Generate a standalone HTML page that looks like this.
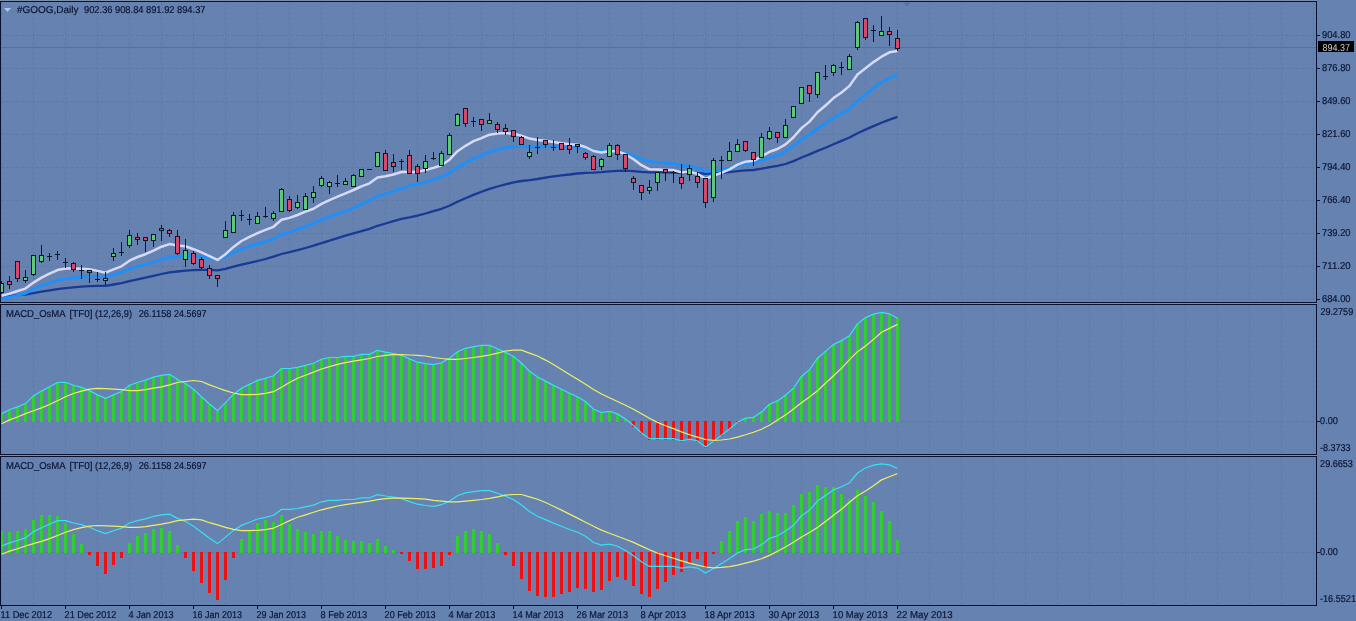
<!DOCTYPE html>
<html><head><meta charset="utf-8"><title>GOOG Daily</title>
<style>
html,body{margin:0;padding:0;background:#6682b0;width:1356px;height:621px;overflow:hidden}
.dl{transform-box:fill-box;}
</style></head><body>
<svg width="1356" height="621" viewBox="0 0 1356 621" style="display:block"><rect x="0" y="0" width="1356" height="621" fill="#6682b0"/><path d="M1.5 2V302 M33.5 2V302 M65.5 2V302 M97.5 2V302 M129.5 2V302 M161.5 2V302 M193.5 2V302 M225.5 2V302 M257.5 2V302 M289.5 2V302 M321.5 2V302 M353.5 2V302 M385.5 2V302 M417.5 2V302 M449.5 2V302 M481.5 2V302 M513.5 2V302 M545.5 2V302 M577.5 2V302 M609.5 2V302 M641.5 2V302 M673.5 2V302 M705.5 2V302 M737.5 2V302 M769.5 2V302 M801.5 2V302 M833.5 2V302 M865.5 2V302 M897.5 2V302 M929.5 2V302 M961.5 2V302 M993.5 2V302 M1025.5 2V302 M1057.5 2V302 M1089.5 2V302 M1121.5 2V302 M1153.5 2V302 M1185.5 2V302 M1217.5 2V302 M1249.5 2V302 M1281.5 2V302 M1313.5 2V302 M1.5 305V454 M33.5 305V454 M65.5 305V454 M97.5 305V454 M129.5 305V454 M161.5 305V454 M193.5 305V454 M225.5 305V454 M257.5 305V454 M289.5 305V454 M321.5 305V454 M353.5 305V454 M385.5 305V454 M417.5 305V454 M449.5 305V454 M481.5 305V454 M513.5 305V454 M545.5 305V454 M577.5 305V454 M609.5 305V454 M641.5 305V454 M673.5 305V454 M705.5 305V454 M737.5 305V454 M769.5 305V454 M801.5 305V454 M833.5 305V454 M865.5 305V454 M897.5 305V454 M929.5 305V454 M961.5 305V454 M993.5 305V454 M1025.5 305V454 M1057.5 305V454 M1089.5 305V454 M1121.5 305V454 M1153.5 305V454 M1185.5 305V454 M1217.5 305V454 M1249.5 305V454 M1281.5 305V454 M1313.5 305V454 M1.5 457V605 M33.5 457V605 M65.5 457V605 M97.5 457V605 M129.5 457V605 M161.5 457V605 M193.5 457V605 M225.5 457V605 M257.5 457V605 M289.5 457V605 M321.5 457V605 M353.5 457V605 M385.5 457V605 M417.5 457V605 M449.5 457V605 M481.5 457V605 M513.5 457V605 M545.5 457V605 M577.5 457V605 M609.5 457V605 M641.5 457V605 M673.5 457V605 M705.5 457V605 M737.5 457V605 M769.5 457V605 M801.5 457V605 M833.5 457V605 M865.5 457V605 M897.5 457V605 M929.5 457V605 M961.5 457V605 M993.5 457V605 M1025.5 457V605 M1057.5 457V605 M1089.5 457V605 M1121.5 457V605 M1153.5 457V605 M1185.5 457V605 M1217.5 457V605 M1249.5 457V605 M1281.5 457V605 M1313.5 457V605 M1 35.5H1316 M1 68.5H1316 M1 101.5H1316 M1 134.5H1316 M1 167.5H1316 M1 200.5H1316 M1 233.5H1316 M1 266.5H1316 M1 299.5H1316 M1 421.5H1316 M1 552.5H1316" stroke="#5e79a6" stroke-width="1" stroke-dasharray="3 2" fill="none" shape-rendering="crispEdges"/><path d="M1 47.5H1316" stroke="#5a7098" stroke-width="1" fill="none" shape-rendering="crispEdges"/><defs><clipPath id="c0"><rect x="1" y="2" width="1315" height="300"/></clipPath><clipPath id="c1"><rect x="1" y="305" width="1315" height="149"/></clipPath><clipPath id="c2"><rect x="1" y="457" width="1315" height="148"/></clipPath></defs><g clip-path="url(#c0)"><polyline points="1.5,296.5 9.5,295.9 17.5,295.2 25.5,294.6 33.5,293.1 41.5,291.6 49.5,290.3 57.5,289.1 65.5,288.1 73.5,287.4 81.5,286.7 89.5,286.1 97.5,285.9 105.5,285.8 113.5,284.5 121.5,283.1 129.5,281.1 137.5,279.3 145.5,277.7 153.5,275.9 161.5,274.0 169.5,272.3 177.5,271.5 185.5,270.7 193.5,270.2 201.5,269.9 209.5,269.9 217.5,270.3 225.5,268.8 233.5,266.7 241.5,264.7 249.5,262.9 257.5,261.0 265.5,259.0 273.5,256.7 281.5,254.0 289.5,252.2 297.5,250.2 305.5,248.0 313.5,245.7 321.5,243.1 329.5,240.7 337.5,238.1 345.5,235.6 353.5,233.4 361.5,231.2 369.5,228.9 377.5,225.8 385.5,223.5 393.5,221.2 401.5,218.8 409.5,217.4 417.5,215.7 425.5,213.5 433.5,211.2 441.5,208.8 449.5,205.7 457.5,201.7 465.5,198.3 473.5,194.9 481.5,191.8 489.5,188.9 497.5,186.5 505.5,184.3 513.5,182.4 521.5,181.0 529.5,180.1 537.5,179.0 545.5,177.6 553.5,176.3 561.5,175.3 569.5,174.5 577.5,173.5 585.5,172.8 593.5,172.7 601.5,172.2 609.5,171.3 617.5,170.8 625.5,170.7 633.5,171.1 641.5,171.9 649.5,172.4 657.5,172.3 665.5,172.4 673.5,172.5 681.5,173.0 689.5,172.8 697.5,172.9 705.5,173.8 713.5,173.2 721.5,172.8 729.5,172.2 737.5,171.2 745.5,170.4 753.5,170.0 761.5,168.7 769.5,167.2 777.5,165.9 785.5,164.0 793.5,161.1 801.5,157.5 809.5,154.4 817.5,150.9 825.5,147.8 833.5,144.2 841.5,140.9 849.5,137.5 857.5,133.2 865.5,129.6 873.5,126.1 881.5,122.7 889.5,119.6 897.5,116.9" fill="none" stroke="#183a96" stroke-width="2.3" stroke-linejoin="round"/><polyline points="1.5,298.6 9.5,297.3 17.5,295.4 25.5,293.2 33.5,289.0 41.5,285.7 49.5,282.9 57.5,280.3 65.5,278.7 73.5,277.7 81.5,276.9 89.5,276.4 97.5,276.6 105.5,276.8 113.5,274.5 121.5,272.4 129.5,268.9 137.5,266.4 145.5,264.4 153.5,262.1 161.5,259.6 169.5,257.3 177.5,256.6 185.5,255.4 193.5,255.8 201.5,256.5 209.5,258.0 217.5,259.5 225.5,256.5 233.5,252.4 241.5,248.8 249.5,245.9 257.5,244.0 265.5,241.7 273.5,239.0 281.5,234.3 289.5,232.1 297.5,229.3 305.5,226.4 313.5,223.5 321.5,219.7 329.5,216.5 337.5,213.8 345.5,211.1 353.5,207.9 361.5,204.1 369.5,200.7 377.5,196.2 385.5,193.9 393.5,191.4 401.5,188.6 409.5,185.6 417.5,184.2 425.5,182.0 433.5,179.6 441.5,176.9 449.5,172.8 457.5,167.2 465.5,163.0 473.5,158.9 481.5,155.4 489.5,151.8 497.5,149.5 505.5,147.7 513.5,146.6 521.5,146.4 529.5,146.9 537.5,146.9 545.5,146.5 553.5,146.4 561.5,146.6 569.5,146.9 577.5,146.9 585.5,148.1 593.5,150.4 601.5,151.5 609.5,151.1 617.5,151.5 625.5,153.1 633.5,155.9 641.5,159.2 649.5,161.6 657.5,162.4 665.5,163.1 673.5,163.7 681.5,165.6 689.5,166.1 697.5,167.9 705.5,171.4 713.5,170.8 721.5,170.3 729.5,168.5 737.5,165.8 745.5,163.7 753.5,162.8 761.5,160.3 769.5,157.7 777.5,155.5 785.5,151.5 793.5,146.0 801.5,139.6 809.5,134.7 817.5,128.5 825.5,123.5 833.5,118.3 841.5,113.9 849.5,109.0 857.5,101.0 865.5,94.6 873.5,87.9 881.5,82.3 889.5,77.8 897.5,75.0" fill="none" stroke="#2090f8" stroke-width="3" stroke-linejoin="round"/><polyline points="1.5,295.7 9.5,293.7 17.5,291.0 25.5,288.6 33.5,282.6 41.5,277.6 49.5,273.7 57.5,270.1 65.5,268.6 73.5,268.5 81.5,268.7 89.5,269.2 97.5,270.9 105.5,272.7 113.5,269.3 121.5,266.3 129.5,260.7 137.5,257.0 145.5,254.2 153.5,250.6 161.5,246.7 169.5,244.1 177.5,245.6 185.5,246.3 193.5,249.2 201.5,252.4 209.5,256.2 217.5,259.9 225.5,254.2 233.5,246.9 241.5,241.0 249.5,236.9 257.5,233.1 265.5,229.9 273.5,226.8 281.5,219.8 289.5,217.9 297.5,215.0 305.5,211.6 313.5,208.7 321.5,203.9 329.5,200.1 337.5,196.7 345.5,193.4 353.5,190.0 361.5,186.3 369.5,183.3 377.5,177.6 385.5,176.3 393.5,174.5 401.5,172.0 409.5,171.8 417.5,171.9 425.5,170.0 433.5,167.9 441.5,165.2 449.5,159.7 457.5,151.2 465.5,145.8 473.5,141.2 481.5,138.1 489.5,134.7 497.5,133.6 505.5,133.1 513.5,133.8 521.5,135.7 529.5,138.6 537.5,140.1 545.5,140.8 553.5,142.0 561.5,143.3 569.5,144.3 577.5,144.7 585.5,147.0 593.5,151.0 601.5,152.5 609.5,151.0 617.5,151.4 625.5,154.2 633.5,159.2 641.5,165.2 649.5,169.3 657.5,169.6 665.5,169.9 673.5,170.1 681.5,172.4 689.5,171.8 697.5,173.7 705.5,178.8 713.5,175.5 721.5,172.9 729.5,169.3 737.5,164.7 745.5,161.7 753.5,160.8 761.5,156.4 769.5,151.8 777.5,149.0 785.5,144.4 793.5,137.3 801.5,128.1 809.5,121.6 817.5,112.3 825.5,105.5 833.5,98.1 841.5,92.5 849.5,85.9 857.5,74.5 865.5,68.2 873.5,62.1 881.5,56.7 889.5,52.3 897.5,51.1" fill="none" stroke="#d6daf4" stroke-width="2.5" stroke-linejoin="round"/><g shape-rendering="crispEdges"><rect x="1" y="281" width="1" height="13" fill="#0c1a24"/><rect x="-1" y="283" width="5" height="10" fill="#0c1a24"/><rect x="0" y="284" width="3" height="8" fill="#5cc878"/><rect x="9" y="276" width="1" height="13" fill="#0c1a24"/><rect x="7" y="281" width="5" height="4" fill="#0c1a24"/><rect x="8" y="282" width="3" height="2" fill="#d84868"/><rect x="17" y="261" width="1" height="21" fill="#0c1a24"/><rect x="15" y="261" width="5" height="18" fill="#0c1a24"/><rect x="16" y="262" width="3" height="16" fill="#d84868"/><rect x="25" y="270" width="1" height="13" fill="#0c1a24"/><rect x="23" y="277" width="5" height="4" fill="#0c1a24"/><rect x="24" y="278" width="3" height="2" fill="#5cc878"/><rect x="33" y="255" width="1" height="21" fill="#0c1a24"/><rect x="31" y="255" width="5" height="20" fill="#0c1a24"/><rect x="32" y="256" width="3" height="18" fill="#5cc878"/><rect x="41" y="245" width="1" height="18" fill="#0c1a24"/><rect x="39" y="255" width="5" height="7" fill="#0c1a24"/><rect x="40" y="256" width="3" height="5" fill="#5cc878"/><rect x="49" y="253" width="1" height="8" fill="#0c1a24"/><rect x="47" y="256" width="5" height="1" fill="#0c1a24"/><rect x="57" y="251" width="1" height="9" fill="#0c1a24"/><rect x="55" y="254" width="5" height="1" fill="#0c1a24"/><rect x="65" y="258" width="1" height="10" fill="#0c1a24"/><rect x="63" y="262" width="5" height="1" fill="#0c1a24"/><rect x="73" y="262" width="1" height="10" fill="#0c1a24"/><rect x="71" y="263" width="5" height="7" fill="#0c1a24"/><rect x="72" y="264" width="3" height="5" fill="#d84868"/><rect x="81" y="265" width="1" height="14" fill="#0c1a24"/><rect x="79" y="270" width="5" height="1" fill="#0c1a24"/><rect x="89" y="270" width="1" height="13" fill="#0c1a24"/><rect x="87" y="270" width="5" height="3" fill="#0c1a24"/><rect x="88" y="271" width="3" height="1" fill="#d84868"/><rect x="97" y="272" width="1" height="10" fill="#0c1a24"/><rect x="95" y="279" width="5" height="1" fill="#0c1a24"/><rect x="105" y="272" width="1" height="13" fill="#0c1a24"/><rect x="103" y="278" width="5" height="3" fill="#0c1a24"/><rect x="104" y="279" width="3" height="1" fill="#5cc878"/><rect x="113" y="248" width="1" height="13" fill="#0c1a24"/><rect x="111" y="253" width="5" height="4" fill="#0c1a24"/><rect x="112" y="254" width="3" height="2" fill="#5cc878"/><rect x="121" y="242" width="1" height="14" fill="#0c1a24"/><rect x="119" y="252" width="5" height="1" fill="#0c1a24"/><rect x="129" y="230" width="1" height="18" fill="#0c1a24"/><rect x="127" y="235" width="5" height="11" fill="#0c1a24"/><rect x="128" y="236" width="3" height="9" fill="#5cc878"/><rect x="137" y="233" width="1" height="12" fill="#0c1a24"/><rect x="135" y="237" width="5" height="3" fill="#0c1a24"/><rect x="136" y="238" width="3" height="1" fill="#d84868"/><rect x="145" y="237" width="1" height="15" fill="#0c1a24"/><rect x="143" y="237" width="5" height="4" fill="#0c1a24"/><rect x="144" y="238" width="3" height="2" fill="#d84868"/><rect x="153" y="234" width="1" height="13" fill="#0c1a24"/><rect x="151" y="234" width="5" height="7" fill="#0c1a24"/><rect x="152" y="235" width="3" height="5" fill="#5cc878"/><rect x="161" y="225" width="1" height="16" fill="#0c1a24"/><rect x="159" y="228" width="5" height="3" fill="#0c1a24"/><rect x="160" y="229" width="3" height="1" fill="#d84868"/><rect x="169" y="229" width="1" height="8" fill="#0c1a24"/><rect x="167" y="230" width="5" height="4" fill="#0c1a24"/><rect x="168" y="231" width="3" height="2" fill="#d84868"/><rect x="177" y="230" width="1" height="25" fill="#0c1a24"/><rect x="175" y="236" width="5" height="18" fill="#0c1a24"/><rect x="176" y="237" width="3" height="16" fill="#d84868"/><rect x="185" y="239" width="1" height="28" fill="#0c1a24"/><rect x="183" y="250" width="5" height="10" fill="#0c1a24"/><rect x="184" y="251" width="3" height="8" fill="#5cc878"/><rect x="193" y="251" width="1" height="14" fill="#0c1a24"/><rect x="191" y="253" width="5" height="11" fill="#0c1a24"/><rect x="192" y="254" width="3" height="9" fill="#d84868"/><rect x="201" y="257" width="1" height="12" fill="#0c1a24"/><rect x="199" y="259" width="5" height="9" fill="#0c1a24"/><rect x="200" y="260" width="3" height="7" fill="#d84868"/><rect x="209" y="265" width="1" height="14" fill="#0c1a24"/><rect x="207" y="268" width="5" height="8" fill="#0c1a24"/><rect x="208" y="269" width="3" height="6" fill="#d84868"/><rect x="217" y="275" width="1" height="12" fill="#0c1a24"/><rect x="215" y="275" width="5" height="4" fill="#0c1a24"/><rect x="216" y="276" width="3" height="2" fill="#d84868"/><rect x="225" y="221" width="1" height="17" fill="#0c1a24"/><rect x="223" y="230" width="5" height="8" fill="#0c1a24"/><rect x="224" y="231" width="3" height="6" fill="#5cc878"/><rect x="233" y="212" width="1" height="21" fill="#0c1a24"/><rect x="231" y="215" width="5" height="18" fill="#0c1a24"/><rect x="232" y="216" width="3" height="16" fill="#5cc878"/><rect x="241" y="210" width="1" height="11" fill="#0c1a24"/><rect x="239" y="215" width="5" height="1" fill="#0c1a24"/><rect x="249" y="214" width="1" height="11" fill="#0c1a24"/><rect x="247" y="219" width="5" height="1" fill="#0c1a24"/><rect x="257" y="212" width="1" height="12" fill="#0c1a24"/><rect x="255" y="216" width="5" height="8" fill="#0c1a24"/><rect x="256" y="217" width="3" height="6" fill="#5cc878"/><rect x="265" y="207" width="1" height="11" fill="#0c1a24"/><rect x="263" y="216" width="5" height="1" fill="#0c1a24"/><rect x="273" y="211" width="1" height="10" fill="#0c1a24"/><rect x="271" y="213" width="5" height="6" fill="#0c1a24"/><rect x="272" y="214" width="3" height="4" fill="#5cc878"/><rect x="281" y="188" width="1" height="24" fill="#0c1a24"/><rect x="279" y="189" width="5" height="23" fill="#0c1a24"/><rect x="280" y="190" width="3" height="21" fill="#5cc878"/><rect x="289" y="196" width="1" height="16" fill="#0c1a24"/><rect x="287" y="199" width="5" height="12" fill="#0c1a24"/><rect x="288" y="200" width="3" height="10" fill="#d84868"/><rect x="297" y="195" width="1" height="14" fill="#0c1a24"/><rect x="295" y="202" width="5" height="6" fill="#0c1a24"/><rect x="296" y="203" width="3" height="4" fill="#5cc878"/><rect x="305" y="193" width="1" height="17" fill="#0c1a24"/><rect x="303" y="196" width="5" height="14" fill="#0c1a24"/><rect x="304" y="197" width="3" height="12" fill="#5cc878"/><rect x="313" y="186" width="1" height="17" fill="#0c1a24"/><rect x="311" y="192" width="5" height="6" fill="#0c1a24"/><rect x="312" y="193" width="3" height="4" fill="#5cc878"/><rect x="321" y="176" width="1" height="11" fill="#0c1a24"/><rect x="319" y="178" width="5" height="8" fill="#0c1a24"/><rect x="320" y="179" width="3" height="6" fill="#5cc878"/><rect x="329" y="181" width="1" height="13" fill="#0c1a24"/><rect x="327" y="182" width="5" height="5" fill="#0c1a24"/><rect x="328" y="183" width="3" height="3" fill="#5cc878"/><rect x="337" y="175" width="1" height="12" fill="#0c1a24"/><rect x="335" y="183" width="5" height="1" fill="#0c1a24"/><rect x="345" y="178" width="1" height="7" fill="#0c1a24"/><rect x="343" y="181" width="5" height="4" fill="#0c1a24"/><rect x="344" y="182" width="3" height="2" fill="#5cc878"/><rect x="353" y="174" width="1" height="13" fill="#0c1a24"/><rect x="351" y="175" width="5" height="12" fill="#0c1a24"/><rect x="352" y="176" width="3" height="10" fill="#5cc878"/><rect x="361" y="169" width="1" height="8" fill="#0c1a24"/><rect x="359" y="169" width="5" height="8" fill="#0c1a24"/><rect x="360" y="170" width="3" height="6" fill="#5cc878"/><rect x="369" y="169" width="1" height="1" fill="#0c1a24"/><rect x="367" y="169" width="5" height="1" fill="#0c1a24"/><rect x="377" y="152" width="1" height="15" fill="#0c1a24"/><rect x="375" y="152" width="5" height="15" fill="#0c1a24"/><rect x="376" y="153" width="3" height="13" fill="#5cc878"/><rect x="385" y="150" width="1" height="21" fill="#0c1a24"/><rect x="383" y="153" width="5" height="18" fill="#0c1a24"/><rect x="384" y="154" width="3" height="16" fill="#d84868"/><rect x="393" y="154" width="1" height="18" fill="#0c1a24"/><rect x="391" y="162" width="5" height="5" fill="#0c1a24"/><rect x="392" y="163" width="3" height="3" fill="#d84868"/><rect x="401" y="159" width="1" height="11" fill="#0c1a24"/><rect x="399" y="161" width="5" height="1" fill="#0c1a24"/><rect x="409" y="150" width="1" height="24" fill="#0c1a24"/><rect x="407" y="155" width="5" height="19" fill="#0c1a24"/><rect x="408" y="156" width="3" height="17" fill="#d84868"/><rect x="417" y="164" width="1" height="18" fill="#0c1a24"/><rect x="415" y="166" width="5" height="8" fill="#0c1a24"/><rect x="416" y="167" width="3" height="6" fill="#d84868"/><rect x="425" y="155" width="1" height="18" fill="#0c1a24"/><rect x="423" y="161" width="5" height="8" fill="#0c1a24"/><rect x="424" y="162" width="3" height="6" fill="#5cc878"/><rect x="433" y="152" width="1" height="8" fill="#0c1a24"/><rect x="431" y="158" width="5" height="1" fill="#0c1a24"/><rect x="441" y="151" width="1" height="15" fill="#0c1a24"/><rect x="439" y="153" width="5" height="13" fill="#0c1a24"/><rect x="440" y="154" width="3" height="11" fill="#5cc878"/><rect x="449" y="133" width="1" height="22" fill="#0c1a24"/><rect x="447" y="135" width="5" height="20" fill="#0c1a24"/><rect x="448" y="136" width="3" height="18" fill="#5cc878"/><rect x="457" y="113" width="1" height="13" fill="#0c1a24"/><rect x="455" y="114" width="5" height="12" fill="#0c1a24"/><rect x="456" y="115" width="3" height="10" fill="#5cc878"/><rect x="465" y="108" width="1" height="19" fill="#0c1a24"/><rect x="463" y="108" width="5" height="16" fill="#0c1a24"/><rect x="464" y="109" width="3" height="14" fill="#d84868"/><rect x="473" y="117" width="1" height="10" fill="#0c1a24"/><rect x="471" y="121" width="5" height="1" fill="#0c1a24"/><rect x="481" y="119" width="1" height="12" fill="#0c1a24"/><rect x="479" y="119" width="5" height="6" fill="#0c1a24"/><rect x="480" y="120" width="3" height="4" fill="#d84868"/><rect x="489" y="113" width="1" height="11" fill="#0c1a24"/><rect x="487" y="120" width="5" height="4" fill="#0c1a24"/><rect x="488" y="121" width="3" height="2" fill="#5cc878"/><rect x="497" y="122" width="1" height="11" fill="#0c1a24"/><rect x="495" y="124" width="5" height="6" fill="#0c1a24"/><rect x="496" y="125" width="3" height="4" fill="#d84868"/><rect x="505" y="124" width="1" height="11" fill="#0c1a24"/><rect x="503" y="128" width="5" height="4" fill="#0c1a24"/><rect x="504" y="129" width="3" height="2" fill="#d84868"/><rect x="513" y="130" width="1" height="12" fill="#0c1a24"/><rect x="511" y="130" width="5" height="7" fill="#0c1a24"/><rect x="512" y="131" width="3" height="5" fill="#d84868"/><rect x="521" y="136" width="1" height="9" fill="#0c1a24"/><rect x="519" y="137" width="5" height="8" fill="#0c1a24"/><rect x="520" y="138" width="3" height="6" fill="#d84868"/><rect x="529" y="145" width="1" height="14" fill="#0c1a24"/><rect x="527" y="152" width="5" height="5" fill="#0c1a24"/><rect x="528" y="153" width="3" height="3" fill="#5cc878"/><rect x="537" y="137" width="1" height="17" fill="#0c1a24"/><rect x="535" y="147" width="5" height="1" fill="#0c1a24"/><rect x="545" y="140" width="1" height="8" fill="#0c1a24"/><rect x="543" y="140" width="5" height="5" fill="#0c1a24"/><rect x="544" y="141" width="3" height="3" fill="#d84868"/><rect x="553" y="140" width="1" height="11" fill="#0c1a24"/><rect x="551" y="147" width="5" height="1" fill="#0c1a24"/><rect x="561" y="143" width="1" height="7" fill="#0c1a24"/><rect x="559" y="143" width="5" height="7" fill="#0c1a24"/><rect x="560" y="144" width="3" height="5" fill="#d84868"/><rect x="569" y="138" width="1" height="16" fill="#0c1a24"/><rect x="567" y="145" width="5" height="5" fill="#0c1a24"/><rect x="568" y="146" width="3" height="3" fill="#d84868"/><rect x="577" y="144" width="1" height="9" fill="#0c1a24"/><rect x="575" y="144" width="5" height="3" fill="#0c1a24"/><rect x="576" y="145" width="3" height="1" fill="#d84868"/><rect x="585" y="152" width="1" height="8" fill="#0c1a24"/><rect x="583" y="153" width="5" height="5" fill="#0c1a24"/><rect x="584" y="154" width="3" height="3" fill="#d84868"/><rect x="593" y="155" width="1" height="15" fill="#0c1a24"/><rect x="591" y="156" width="5" height="14" fill="#0c1a24"/><rect x="592" y="157" width="3" height="12" fill="#d84868"/><rect x="601" y="158" width="1" height="12" fill="#0c1a24"/><rect x="599" y="159" width="5" height="8" fill="#0c1a24"/><rect x="600" y="160" width="3" height="6" fill="#5cc878"/><rect x="609" y="143" width="1" height="14" fill="#0c1a24"/><rect x="607" y="145" width="5" height="12" fill="#0c1a24"/><rect x="608" y="146" width="3" height="10" fill="#5cc878"/><rect x="617" y="144" width="1" height="16" fill="#0c1a24"/><rect x="615" y="145" width="5" height="10" fill="#0c1a24"/><rect x="616" y="146" width="3" height="8" fill="#d84868"/><rect x="625" y="154" width="1" height="18" fill="#0c1a24"/><rect x="623" y="154" width="5" height="15" fill="#0c1a24"/><rect x="624" y="155" width="3" height="13" fill="#d84868"/><rect x="633" y="176" width="1" height="14" fill="#0c1a24"/><rect x="631" y="178" width="5" height="5" fill="#0c1a24"/><rect x="632" y="179" width="3" height="3" fill="#d84868"/><rect x="641" y="185" width="1" height="15" fill="#0c1a24"/><rect x="639" y="185" width="5" height="8" fill="#0c1a24"/><rect x="640" y="186" width="3" height="6" fill="#d84868"/><rect x="649" y="180" width="1" height="14" fill="#0c1a24"/><rect x="647" y="187" width="5" height="4" fill="#0c1a24"/><rect x="648" y="188" width="3" height="2" fill="#5cc878"/><rect x="657" y="172" width="1" height="19" fill="#0c1a24"/><rect x="655" y="172" width="5" height="11" fill="#0c1a24"/><rect x="656" y="173" width="3" height="9" fill="#5cc878"/><rect x="665" y="169" width="1" height="12" fill="#0c1a24"/><rect x="663" y="169" width="5" height="4" fill="#0c1a24"/><rect x="664" y="170" width="3" height="2" fill="#d84868"/><rect x="673" y="171" width="1" height="12" fill="#0c1a24"/><rect x="671" y="172" width="5" height="1" fill="#0c1a24"/><rect x="681" y="164" width="1" height="25" fill="#0c1a24"/><rect x="679" y="177" width="5" height="7" fill="#0c1a24"/><rect x="680" y="178" width="3" height="5" fill="#d84868"/><rect x="689" y="165" width="1" height="16" fill="#0c1a24"/><rect x="687" y="168" width="5" height="7" fill="#0c1a24"/><rect x="688" y="169" width="3" height="5" fill="#5cc878"/><rect x="697" y="172" width="1" height="16" fill="#0c1a24"/><rect x="695" y="176" width="5" height="7" fill="#0c1a24"/><rect x="696" y="177" width="3" height="5" fill="#d84868"/><rect x="705" y="178" width="1" height="30" fill="#0c1a24"/><rect x="703" y="178" width="5" height="25" fill="#0c1a24"/><rect x="704" y="179" width="3" height="23" fill="#d84868"/><rect x="713" y="158" width="1" height="44" fill="#0c1a24"/><rect x="711" y="160" width="5" height="38" fill="#0c1a24"/><rect x="712" y="161" width="3" height="36" fill="#5cc878"/><rect x="721" y="156" width="1" height="23" fill="#0c1a24"/><rect x="719" y="160" width="5" height="1" fill="#0c1a24"/><rect x="729" y="142" width="1" height="19" fill="#0c1a24"/><rect x="727" y="151" width="5" height="10" fill="#0c1a24"/><rect x="728" y="152" width="3" height="8" fill="#5cc878"/><rect x="737" y="139" width="1" height="13" fill="#0c1a24"/><rect x="735" y="144" width="5" height="8" fill="#0c1a24"/><rect x="736" y="145" width="3" height="6" fill="#5cc878"/><rect x="745" y="141" width="1" height="11" fill="#0c1a24"/><rect x="743" y="141" width="5" height="10" fill="#0c1a24"/><rect x="744" y="142" width="3" height="8" fill="#d84868"/><rect x="753" y="152" width="1" height="14" fill="#0c1a24"/><rect x="751" y="152" width="5" height="8" fill="#0c1a24"/><rect x="752" y="153" width="3" height="6" fill="#d84868"/><rect x="761" y="133" width="1" height="25" fill="#0c1a24"/><rect x="759" y="137" width="5" height="21" fill="#0c1a24"/><rect x="760" y="138" width="3" height="19" fill="#5cc878"/><rect x="769" y="127" width="1" height="13" fill="#0c1a24"/><rect x="767" y="131" width="5" height="8" fill="#0c1a24"/><rect x="768" y="132" width="3" height="6" fill="#5cc878"/><rect x="777" y="132" width="1" height="11" fill="#0c1a24"/><rect x="775" y="132" width="5" height="6" fill="#0c1a24"/><rect x="776" y="133" width="3" height="4" fill="#d84868"/><rect x="785" y="119" width="1" height="19" fill="#0c1a24"/><rect x="783" y="125" width="5" height="13" fill="#0c1a24"/><rect x="784" y="126" width="3" height="11" fill="#5cc878"/><rect x="793" y="106" width="1" height="12" fill="#0c1a24"/><rect x="791" y="106" width="5" height="12" fill="#0c1a24"/><rect x="792" y="107" width="3" height="10" fill="#5cc878"/><rect x="801" y="87" width="1" height="17" fill="#0c1a24"/><rect x="799" y="87" width="5" height="17" fill="#0c1a24"/><rect x="800" y="88" width="3" height="15" fill="#5cc878"/><rect x="809" y="85" width="1" height="17" fill="#0c1a24"/><rect x="807" y="85" width="5" height="9" fill="#0c1a24"/><rect x="808" y="86" width="3" height="7" fill="#d84868"/><rect x="817" y="72" width="1" height="26" fill="#0c1a24"/><rect x="815" y="72" width="5" height="23" fill="#0c1a24"/><rect x="816" y="73" width="3" height="21" fill="#5cc878"/><rect x="825" y="65" width="1" height="15" fill="#0c1a24"/><rect x="823" y="76" width="5" height="1" fill="#0c1a24"/><rect x="833" y="64" width="1" height="12" fill="#0c1a24"/><rect x="831" y="65" width="5" height="8" fill="#0c1a24"/><rect x="832" y="66" width="3" height="6" fill="#5cc878"/><rect x="841" y="62" width="1" height="13" fill="#0c1a24"/><rect x="839" y="67" width="5" height="1" fill="#0c1a24"/><rect x="849" y="54" width="1" height="16" fill="#0c1a24"/><rect x="847" y="56" width="5" height="14" fill="#0c1a24"/><rect x="848" y="57" width="3" height="12" fill="#5cc878"/><rect x="857" y="21" width="1" height="29" fill="#0c1a24"/><rect x="855" y="22" width="5" height="26" fill="#0c1a24"/><rect x="856" y="23" width="3" height="24" fill="#5cc878"/><rect x="865" y="18" width="1" height="22" fill="#0c1a24"/><rect x="863" y="18" width="5" height="20" fill="#0c1a24"/><rect x="864" y="19" width="3" height="18" fill="#d84868"/><rect x="873" y="25" width="1" height="17" fill="#0c1a24"/><rect x="871" y="30" width="5" height="1" fill="#0c1a24"/><rect x="881" y="16" width="1" height="20" fill="#0c1a24"/><rect x="879" y="31" width="5" height="5" fill="#0c1a24"/><rect x="880" y="32" width="3" height="3" fill="#5cc878"/><rect x="889" y="27" width="1" height="19" fill="#0c1a24"/><rect x="887" y="31" width="5" height="4" fill="#0c1a24"/><rect x="888" y="32" width="3" height="2" fill="#d84868"/><rect x="897" y="30" width="1" height="21" fill="#0c1a24"/><rect x="895" y="38" width="5" height="11" fill="#0c1a24"/><rect x="896" y="39" width="3" height="9" fill="#d84868"/></g></g><g clip-path="url(#c1)"><g shape-rendering="crispEdges"><rect x="0" y="414" width="3" height="8" fill="#32cd32"/><rect x="8" y="410" width="3" height="12" fill="#32cd32"/><rect x="16" y="407" width="3" height="15" fill="#32cd32"/><rect x="24" y="404" width="3" height="18" fill="#32cd32"/><rect x="32" y="396" width="3" height="26" fill="#32cd32"/><rect x="40" y="391" width="3" height="31" fill="#32cd32"/><rect x="48" y="387" width="3" height="35" fill="#32cd32"/><rect x="56" y="382" width="3" height="40" fill="#32cd32"/><rect x="64" y="382" width="3" height="40" fill="#32cd32"/><rect x="72" y="385" width="3" height="37" fill="#32cd32"/><rect x="80" y="387" width="3" height="35" fill="#32cd32"/><rect x="88" y="391" width="3" height="31" fill="#32cd32"/><rect x="96" y="395" width="3" height="27" fill="#32cd32"/><rect x="104" y="398" width="3" height="24" fill="#32cd32"/><rect x="112" y="395" width="3" height="27" fill="#32cd32"/><rect x="120" y="392" width="3" height="30" fill="#32cd32"/><rect x="128" y="385" width="3" height="37" fill="#32cd32"/><rect x="136" y="382" width="3" height="40" fill="#32cd32"/><rect x="144" y="380" width="3" height="42" fill="#32cd32"/><rect x="152" y="377" width="3" height="45" fill="#32cd32"/><rect x="160" y="375" width="3" height="47" fill="#32cd32"/><rect x="168" y="374" width="3" height="48" fill="#32cd32"/><rect x="176" y="380" width="3" height="42" fill="#32cd32"/><rect x="184" y="383" width="3" height="39" fill="#32cd32"/><rect x="192" y="389" width="3" height="33" fill="#32cd32"/><rect x="200" y="397" width="3" height="25" fill="#32cd32"/><rect x="208" y="404" width="3" height="18" fill="#32cd32"/><rect x="216" y="411" width="3" height="11" fill="#32cd32"/><rect x="224" y="403" width="3" height="19" fill="#32cd32"/><rect x="232" y="394" width="3" height="28" fill="#32cd32"/><rect x="240" y="388" width="3" height="34" fill="#32cd32"/><rect x="248" y="384" width="3" height="38" fill="#32cd32"/><rect x="256" y="380" width="3" height="42" fill="#32cd32"/><rect x="264" y="378" width="3" height="44" fill="#32cd32"/><rect x="272" y="376" width="3" height="46" fill="#32cd32"/><rect x="280" y="368" width="3" height="54" fill="#32cd32"/><rect x="288" y="368" width="3" height="54" fill="#32cd32"/><rect x="296" y="367" width="3" height="55" fill="#32cd32"/><rect x="304" y="365" width="3" height="57" fill="#32cd32"/><rect x="312" y="363" width="3" height="59" fill="#32cd32"/><rect x="320" y="359" width="3" height="63" fill="#32cd32"/><rect x="328" y="358" width="3" height="64" fill="#32cd32"/><rect x="336" y="358" width="3" height="64" fill="#32cd32"/><rect x="344" y="356" width="3" height="66" fill="#32cd32"/><rect x="352" y="356" width="3" height="66" fill="#32cd32"/><rect x="360" y="354" width="3" height="68" fill="#32cd32"/><rect x="368" y="354" width="3" height="68" fill="#32cd32"/><rect x="376" y="350" width="3" height="72" fill="#32cd32"/><rect x="384" y="352" width="3" height="70" fill="#32cd32"/><rect x="392" y="354" width="3" height="68" fill="#32cd32"/><rect x="400" y="355" width="3" height="67" fill="#32cd32"/><rect x="408" y="359" width="3" height="63" fill="#32cd32"/><rect x="416" y="362" width="3" height="60" fill="#32cd32"/><rect x="424" y="364" width="3" height="58" fill="#32cd32"/><rect x="432" y="365" width="3" height="57" fill="#32cd32"/><rect x="440" y="363" width="3" height="59" fill="#32cd32"/><rect x="448" y="358" width="3" height="64" fill="#32cd32"/><rect x="456" y="352" width="3" height="70" fill="#32cd32"/><rect x="464" y="348" width="3" height="74" fill="#32cd32"/><rect x="472" y="347" width="3" height="75" fill="#32cd32"/><rect x="480" y="345" width="3" height="77" fill="#32cd32"/><rect x="488" y="345" width="3" height="77" fill="#32cd32"/><rect x="496" y="349" width="3" height="73" fill="#32cd32"/><rect x="504" y="352" width="3" height="70" fill="#32cd32"/><rect x="512" y="356" width="3" height="66" fill="#32cd32"/><rect x="520" y="363" width="3" height="59" fill="#32cd32"/><rect x="528" y="371" width="3" height="51" fill="#32cd32"/><rect x="536" y="377" width="3" height="45" fill="#32cd32"/><rect x="544" y="381" width="3" height="41" fill="#32cd32"/><rect x="552" y="385" width="3" height="37" fill="#32cd32"/><rect x="560" y="389" width="3" height="33" fill="#32cd32"/><rect x="568" y="393" width="3" height="29" fill="#32cd32"/><rect x="576" y="397" width="3" height="25" fill="#32cd32"/><rect x="584" y="402" width="3" height="20" fill="#32cd32"/><rect x="592" y="409" width="3" height="13" fill="#32cd32"/><rect x="600" y="412" width="3" height="10" fill="#32cd32"/><rect x="608" y="411" width="3" height="11" fill="#32cd32"/><rect x="616" y="414" width="3" height="8" fill="#32cd32"/><rect x="624" y="419" width="3" height="3" fill="#32cd32"/><rect x="632" y="421" width="3" height="6" fill="#f01010"/><rect x="640" y="421" width="3" height="13" fill="#f01010"/><rect x="648" y="421" width="3" height="19" fill="#f01010"/><rect x="656" y="421" width="3" height="19" fill="#f01010"/><rect x="664" y="421" width="3" height="19" fill="#f01010"/><rect x="672" y="421" width="3" height="19" fill="#f01010"/><rect x="680" y="421" width="3" height="21" fill="#f01010"/><rect x="688" y="421" width="3" height="19" fill="#f01010"/><rect x="696" y="421" width="3" height="21" fill="#f01010"/><rect x="704" y="421" width="3" height="27" fill="#f01010"/><rect x="712" y="421" width="3" height="21" fill="#f01010"/><rect x="720" y="421" width="3" height="15" fill="#f01010"/><rect x="728" y="421" width="3" height="9" fill="#f01010"/><rect x="736" y="421" width="3" height="2" fill="#f01010"/><rect x="744" y="418" width="3" height="4" fill="#32cd32"/><rect x="752" y="417" width="3" height="5" fill="#32cd32"/><rect x="760" y="412" width="3" height="10" fill="#32cd32"/><rect x="768" y="404" width="3" height="18" fill="#32cd32"/><rect x="776" y="401" width="3" height="21" fill="#32cd32"/><rect x="784" y="395" width="3" height="27" fill="#32cd32"/><rect x="792" y="388" width="3" height="34" fill="#32cd32"/><rect x="800" y="376" width="3" height="46" fill="#32cd32"/><rect x="808" y="370" width="3" height="52" fill="#32cd32"/><rect x="816" y="358" width="3" height="64" fill="#32cd32"/><rect x="824" y="351" width="3" height="71" fill="#32cd32"/><rect x="832" y="345" width="3" height="77" fill="#32cd32"/><rect x="840" y="341" width="3" height="81" fill="#32cd32"/><rect x="848" y="336" width="3" height="86" fill="#32cd32"/><rect x="856" y="324" width="3" height="98" fill="#32cd32"/><rect x="864" y="318" width="3" height="104" fill="#32cd32"/><rect x="872" y="314" width="3" height="108" fill="#32cd32"/><rect x="880" y="312" width="3" height="110" fill="#32cd32"/><rect x="888" y="314" width="3" height="108" fill="#32cd32"/><rect x="896" y="318" width="3" height="104" fill="#32cd32"/></g><polyline points="1.5,413.6 9.5,409.8 17.5,406.9 25.5,403.6 33.5,395.9 41.5,391.1 49.5,386.8 57.5,382.5 65.5,382.3 73.5,385.3 81.5,387.3 89.5,390.6 97.5,394.9 105.5,398.3 113.5,394.9 121.5,391.6 129.5,385.3 137.5,382.5 145.5,380.1 153.5,377.2 161.5,375.3 169.5,374.3 177.5,379.6 185.5,383.4 193.5,389.2 201.5,396.8 209.5,404.0 217.5,410.7 225.5,402.6 233.5,394.4 241.5,388.2 249.5,384.4 257.5,380.4 265.5,378.3 273.5,375.8 281.5,368.5 289.5,368.5 297.5,367.4 305.5,365.3 313.5,363.3 321.5,359.2 329.5,357.5 337.5,357.5 345.5,356.4 353.5,356.4 361.5,354.4 369.5,354.4 377.5,350.3 385.5,352.1 393.5,353.6 401.5,355.3 409.5,358.9 417.5,362.2 425.5,363.7 433.5,364.7 441.5,362.8 449.5,358.2 457.5,351.7 465.5,348.3 473.5,346.6 481.5,345.4 489.5,345.4 497.5,348.8 505.5,352.4 513.5,356.4 521.5,363.3 529.5,371.2 537.5,377.0 545.5,381.1 553.5,385.4 561.5,389.3 569.5,393.3 577.5,396.8 585.5,401.6 593.5,409.3 601.5,412.5 609.5,411.3 617.5,413.9 625.5,419.0 633.5,425.5 641.5,433.0 649.5,438.7 657.5,438.7 665.5,438.7 673.5,438.7 681.5,440.8 689.5,439.2 697.5,440.8 705.5,447.0 713.5,441.3 721.5,435.1 729.5,429.0 737.5,422.2 745.5,418.2 753.5,417.3 761.5,412.1 769.5,404.3 777.5,400.9 785.5,395.2 793.5,388.1 801.5,376.5 809.5,369.7 817.5,358.2 825.5,351.4 833.5,344.6 841.5,340.6 849.5,335.7 857.5,323.8 865.5,317.6 873.5,314.1 881.5,312.4 889.5,313.8 897.5,318.2" fill="none" stroke="#38e0f4" stroke-width="1.2"/><polyline points="1.5,423.7 9.5,419.9 17.5,417.0 25.5,413.6 33.5,410.7 41.5,407.9 49.5,404.5 57.5,400.7 65.5,396.8 73.5,393.5 81.5,391.1 89.5,389.2 97.5,388.4 105.5,388.7 113.5,389.2 121.5,389.7 129.5,390.6 137.5,390.6 145.5,389.7 153.5,388.2 161.5,386.8 169.5,384.9 177.5,382.5 185.5,381.5 193.5,380.5 201.5,381.5 209.5,384.9 217.5,387.7 225.5,390.6 233.5,393.0 241.5,394.7 249.5,394.7 257.5,394.4 265.5,393.4 273.5,391.7 281.5,387.2 289.5,382.4 297.5,378.3 305.5,375.3 313.5,372.1 321.5,369.0 329.5,366.7 337.5,364.4 345.5,362.6 353.5,361.2 361.5,359.8 369.5,358.5 377.5,356.5 385.5,355.3 393.5,354.6 401.5,354.6 409.5,355.0 417.5,355.3 425.5,356.0 433.5,357.5 441.5,358.5 449.5,359.3 457.5,359.3 465.5,358.5 473.5,357.5 481.5,356.4 489.5,355.0 497.5,353.1 505.5,351.0 513.5,350.2 521.5,350.2 529.5,353.1 537.5,356.0 545.5,360.1 553.5,364.6 561.5,369.4 569.5,374.4 577.5,379.3 585.5,384.3 593.5,389.4 601.5,394.0 609.5,397.8 617.5,401.5 625.5,405.2 633.5,409.2 641.5,413.7 649.5,418.3 657.5,422.4 665.5,425.7 673.5,428.6 681.5,431.9 689.5,434.7 697.5,437.1 705.5,439.5 713.5,440.4 721.5,440.0 729.5,439.0 737.5,437.1 745.5,434.8 753.5,432.2 761.5,429.2 769.5,425.2 777.5,420.0 785.5,414.9 793.5,409.0 801.5,402.7 809.5,396.9 817.5,390.8 825.5,383.3 833.5,375.7 841.5,368.4 849.5,359.7 857.5,351.7 865.5,345.9 873.5,339.4 881.5,332.2 889.5,328.4 897.5,324.4" fill="none" stroke="#eef064" stroke-width="1.2"/></g><g clip-path="url(#c2)"><g shape-rendering="crispEdges"><rect x="0" y="531" width="3" height="22" fill="#32cd32"/><rect x="8" y="532" width="3" height="21" fill="#32cd32"/><rect x="16" y="531" width="3" height="22" fill="#32cd32"/><rect x="24" y="529" width="3" height="24" fill="#32cd32"/><rect x="32" y="520" width="3" height="33" fill="#32cd32"/><rect x="40" y="515" width="3" height="38" fill="#32cd32"/><rect x="48" y="515" width="3" height="38" fill="#32cd32"/><rect x="56" y="516" width="3" height="37" fill="#32cd32"/><rect x="64" y="523" width="3" height="30" fill="#32cd32"/><rect x="72" y="534" width="3" height="19" fill="#32cd32"/><rect x="80" y="544" width="3" height="9" fill="#32cd32"/><rect x="88" y="552" width="3" height="3" fill="#f01010"/><rect x="96" y="552" width="3" height="14" fill="#f01010"/><rect x="104" y="552" width="3" height="22" fill="#f01010"/><rect x="112" y="552" width="3" height="13" fill="#f01010"/><rect x="120" y="552" width="3" height="6" fill="#f01010"/><rect x="128" y="543" width="3" height="10" fill="#32cd32"/><rect x="136" y="536" width="3" height="17" fill="#32cd32"/><rect x="144" y="533" width="3" height="20" fill="#32cd32"/><rect x="152" y="529" width="3" height="24" fill="#32cd32"/><rect x="160" y="528" width="3" height="25" fill="#32cd32"/><rect x="168" y="531" width="3" height="22" fill="#32cd32"/><rect x="176" y="545" width="3" height="8" fill="#32cd32"/><rect x="184" y="552" width="3" height="6" fill="#f01010"/><rect x="192" y="552" width="3" height="19" fill="#f01010"/><rect x="200" y="552" width="3" height="31" fill="#f01010"/><rect x="208" y="552" width="3" height="41" fill="#f01010"/><rect x="216" y="552" width="3" height="48" fill="#f01010"/><rect x="224" y="552" width="3" height="28" fill="#f01010"/><rect x="232" y="552" width="3" height="6" fill="#f01010"/><rect x="240" y="539" width="3" height="14" fill="#32cd32"/><rect x="248" y="532" width="3" height="21" fill="#32cd32"/><rect x="256" y="523" width="3" height="30" fill="#32cd32"/><rect x="264" y="520" width="3" height="33" fill="#32cd32"/><rect x="272" y="522" width="3" height="31" fill="#32cd32"/><rect x="280" y="515" width="3" height="38" fill="#32cd32"/><rect x="288" y="524" width="3" height="29" fill="#32cd32"/><rect x="296" y="529" width="3" height="24" fill="#32cd32"/><rect x="304" y="532" width="3" height="21" fill="#32cd32"/><rect x="312" y="534" width="3" height="19" fill="#32cd32"/><rect x="320" y="531" width="3" height="22" fill="#32cd32"/><rect x="328" y="531" width="3" height="22" fill="#32cd32"/><rect x="336" y="536" width="3" height="17" fill="#32cd32"/><rect x="344" y="540" width="3" height="13" fill="#32cd32"/><rect x="352" y="541" width="3" height="12" fill="#32cd32"/><rect x="360" y="541" width="3" height="12" fill="#32cd32"/><rect x="368" y="543" width="3" height="10" fill="#32cd32"/><rect x="376" y="539" width="3" height="14" fill="#32cd32"/><rect x="384" y="546" width="3" height="7" fill="#32cd32"/><rect x="392" y="550" width="3" height="3" fill="#32cd32"/><rect x="400" y="552" width="3" height="2" fill="#f01010"/><rect x="408" y="552" width="3" height="9" fill="#f01010"/><rect x="416" y="552" width="3" height="17" fill="#f01010"/><rect x="424" y="552" width="3" height="17" fill="#f01010"/><rect x="432" y="552" width="3" height="16" fill="#f01010"/><rect x="440" y="552" width="3" height="14" fill="#f01010"/><rect x="448" y="552" width="3" height="3" fill="#f01010"/><rect x="456" y="536" width="3" height="17" fill="#32cd32"/><rect x="464" y="531" width="3" height="22" fill="#32cd32"/><rect x="472" y="529" width="3" height="24" fill="#32cd32"/><rect x="480" y="531" width="3" height="22" fill="#32cd32"/><rect x="488" y="534" width="3" height="19" fill="#32cd32"/><rect x="496" y="543" width="3" height="10" fill="#32cd32"/><rect x="504" y="552" width="3" height="3" fill="#f01010"/><rect x="512" y="552" width="3" height="14" fill="#f01010"/><rect x="520" y="552" width="3" height="27" fill="#f01010"/><rect x="528" y="552" width="3" height="39" fill="#f01010"/><rect x="536" y="552" width="3" height="44" fill="#f01010"/><rect x="544" y="552" width="3" height="45" fill="#f01010"/><rect x="552" y="552" width="3" height="45" fill="#f01010"/><rect x="560" y="552" width="3" height="42" fill="#f01010"/><rect x="568" y="552" width="3" height="40" fill="#f01010"/><rect x="576" y="552" width="3" height="36" fill="#f01010"/><rect x="584" y="552" width="3" height="37" fill="#f01010"/><rect x="592" y="552" width="3" height="40" fill="#f01010"/><rect x="600" y="552" width="3" height="38" fill="#f01010"/><rect x="608" y="552" width="3" height="29" fill="#f01010"/><rect x="616" y="552" width="3" height="25" fill="#f01010"/><rect x="624" y="552" width="3" height="28" fill="#f01010"/><rect x="632" y="552" width="3" height="34" fill="#f01010"/><rect x="640" y="552" width="3" height="42" fill="#f01010"/><rect x="648" y="552" width="3" height="45" fill="#f01010"/><rect x="656" y="552" width="3" height="37" fill="#f01010"/><rect x="664" y="552" width="3" height="30" fill="#f01010"/><rect x="672" y="552" width="3" height="23" fill="#f01010"/><rect x="680" y="552" width="3" height="20" fill="#f01010"/><rect x="688" y="552" width="3" height="11" fill="#f01010"/><rect x="696" y="552" width="3" height="7" fill="#f01010"/><rect x="704" y="552" width="3" height="16" fill="#f01010"/><rect x="712" y="552" width="3" height="2" fill="#f01010"/><rect x="720" y="541" width="3" height="12" fill="#32cd32"/><rect x="728" y="531" width="3" height="22" fill="#32cd32"/><rect x="736" y="521" width="3" height="32" fill="#32cd32"/><rect x="744" y="517" width="3" height="36" fill="#32cd32"/><rect x="752" y="521" width="3" height="32" fill="#32cd32"/><rect x="760" y="514" width="3" height="39" fill="#32cd32"/><rect x="768" y="511" width="3" height="42" fill="#32cd32"/><rect x="776" y="513" width="3" height="40" fill="#32cd32"/><rect x="784" y="513" width="3" height="40" fill="#32cd32"/><rect x="792" y="505" width="3" height="48" fill="#32cd32"/><rect x="800" y="494" width="3" height="59" fill="#32cd32"/><rect x="808" y="492" width="3" height="61" fill="#32cd32"/><rect x="816" y="485" width="3" height="68" fill="#32cd32"/><rect x="824" y="487" width="3" height="66" fill="#32cd32"/><rect x="832" y="487" width="3" height="66" fill="#32cd32"/><rect x="840" y="494" width="3" height="59" fill="#32cd32"/><rect x="848" y="499" width="3" height="54" fill="#32cd32"/><rect x="856" y="490" width="3" height="63" fill="#32cd32"/><rect x="864" y="496" width="3" height="57" fill="#32cd32"/><rect x="872" y="502" width="3" height="51" fill="#32cd32"/><rect x="880" y="511" width="3" height="42" fill="#32cd32"/><rect x="888" y="521" width="3" height="32" fill="#32cd32"/><rect x="896" y="540" width="3" height="13" fill="#32cd32"/></g><polyline points="1.5,546.0 9.5,542.9 17.5,540.5 25.5,537.9 33.5,531.6 41.5,527.7 49.5,524.2 57.5,520.7 65.5,520.6 73.5,523.0 81.5,524.6 89.5,527.3 97.5,530.8 105.5,533.6 113.5,530.8 121.5,528.1 129.5,523.0 137.5,520.7 145.5,518.8 153.5,516.4 161.5,514.9 169.5,514.1 177.5,518.4 185.5,521.5 193.5,526.2 201.5,532.3 209.5,538.2 217.5,543.6 225.5,537.1 233.5,530.4 241.5,525.4 249.5,522.3 257.5,519.0 265.5,517.3 273.5,515.3 281.5,509.4 289.5,509.4 297.5,508.5 305.5,506.8 313.5,505.1 321.5,501.8 329.5,500.4 337.5,500.4 345.5,499.5 353.5,499.5 361.5,497.9 369.5,497.9 377.5,494.6 385.5,496.0 393.5,497.2 401.5,498.6 409.5,501.6 417.5,504.2 425.5,505.5 433.5,506.3 441.5,504.7 449.5,501.0 457.5,495.7 465.5,492.9 473.5,491.6 481.5,490.6 489.5,490.6 497.5,493.3 505.5,496.3 513.5,499.5 521.5,505.1 529.5,511.5 537.5,516.3 545.5,519.6 553.5,523.1 561.5,526.2 569.5,529.5 577.5,532.3 585.5,536.2 593.5,542.5 601.5,545.1 609.5,544.1 617.5,546.2 625.5,550.4 633.5,555.7 641.5,561.7 649.5,566.4 657.5,566.4 665.5,566.4 673.5,566.4 681.5,568.1 689.5,566.8 697.5,568.1 705.5,573.1 713.5,568.5 721.5,563.5 729.5,558.5 737.5,553.0 745.5,549.7 753.5,549.0 761.5,544.8 769.5,538.4 777.5,535.7 785.5,531.0 793.5,525.3 801.5,515.8 809.5,510.3 817.5,501.0 825.5,495.5 833.5,489.9 841.5,486.7 849.5,482.7 857.5,473.0 865.5,468.0 873.5,465.2 881.5,463.8 889.5,464.9 897.5,468.5" fill="none" stroke="#38e0f4" stroke-width="1.2"/><polyline points="1.5,554.2 9.5,551.1 17.5,548.8 25.5,546.0 33.5,543.6 41.5,541.4 49.5,538.6 57.5,535.5 65.5,532.3 73.5,529.7 81.5,527.7 89.5,526.2 97.5,525.5 105.5,525.8 113.5,526.2 121.5,526.6 129.5,527.3 137.5,527.3 145.5,526.6 153.5,525.4 161.5,524.2 169.5,522.7 177.5,520.7 185.5,519.9 193.5,519.1 201.5,519.9 209.5,522.7 217.5,524.9 225.5,527.3 233.5,529.3 241.5,530.6 249.5,530.6 257.5,530.4 265.5,529.6 273.5,528.2 281.5,524.5 289.5,520.6 297.5,517.3 305.5,514.9 313.5,512.3 321.5,509.8 329.5,507.9 337.5,506.0 345.5,504.6 353.5,503.4 361.5,502.3 369.5,501.2 377.5,499.6 385.5,498.6 393.5,498.1 401.5,498.1 409.5,498.4 417.5,498.6 425.5,499.2 433.5,500.4 441.5,501.2 449.5,501.9 457.5,501.9 465.5,501.2 473.5,500.4 481.5,499.5 489.5,498.4 497.5,496.8 505.5,495.1 513.5,494.5 521.5,494.5 529.5,496.8 537.5,499.2 545.5,502.5 553.5,506.2 561.5,510.1 569.5,514.1 577.5,518.1 585.5,522.2 593.5,526.3 601.5,530.1 609.5,533.2 617.5,536.2 625.5,539.2 633.5,542.4 641.5,546.1 649.5,549.8 657.5,553.1 665.5,555.8 673.5,558.2 681.5,560.9 689.5,563.1 697.5,565.1 705.5,567.0 713.5,567.8 721.5,567.4 729.5,566.6 737.5,565.1 745.5,563.2 753.5,561.1 761.5,558.7 769.5,555.4 777.5,551.2 785.5,547.0 793.5,542.3 801.5,537.1 809.5,532.4 817.5,527.5 825.5,521.4 833.5,515.2 841.5,509.3 849.5,502.2 857.5,495.7 865.5,491.0 873.5,485.7 881.5,479.9 889.5,476.8 897.5,473.5" fill="none" stroke="#eef064" stroke-width="1.2"/></g><g shape-rendering="crispEdges"><rect x="0" y="0" width="1317" height="1" fill="#7c8eaa"/><rect x="0" y="1" width="1317" height="1" fill="#081230"/><rect x="0" y="302" width="1317" height="1" fill="#081230"/><rect x="0" y="1" width="1" height="302" fill="#081230"/><rect x="1316" y="1" width="1" height="302" fill="#081230"/><rect x="0" y="304" width="1317" height="1" fill="#081230"/><rect x="0" y="454" width="1317" height="1" fill="#081230"/><rect x="0" y="304" width="1" height="151" fill="#081230"/><rect x="1316" y="304" width="1" height="151" fill="#081230"/><rect x="0" y="456" width="1317" height="1" fill="#081230"/><rect x="0" y="605" width="1317" height="1" fill="#081230"/><rect x="0" y="456" width="1" height="150" fill="#081230"/><rect x="1316" y="456" width="1" height="150" fill="#081230"/><rect x="0" y="303" width="1317" height="1" fill="#7c8eaa"/><rect x="0" y="455" width="1317" height="1" fill="#7c8eaa"/><rect x="1317" y="35" width="3" height="1" fill="#081230"/><rect x="1317" y="68" width="3" height="1" fill="#081230"/><rect x="1317" y="101" width="3" height="1" fill="#081230"/><rect x="1317" y="134" width="3" height="1" fill="#081230"/><rect x="1317" y="167" width="3" height="1" fill="#081230"/><rect x="1317" y="200" width="3" height="1" fill="#081230"/><rect x="1317" y="233" width="3" height="1" fill="#081230"/><rect x="1317" y="266" width="3" height="1" fill="#081230"/><rect x="1317" y="299" width="3" height="1" fill="#081230"/><rect x="1317" y="421" width="3" height="1" fill="#081230"/><rect x="1317" y="552" width="3" height="1" fill="#081230"/><rect x="1" y="606" width="1" height="3" fill="#081230"/><rect x="65" y="606" width="1" height="3" fill="#081230"/><rect x="129" y="606" width="1" height="3" fill="#081230"/><rect x="193" y="606" width="1" height="3" fill="#081230"/><rect x="257" y="606" width="1" height="3" fill="#081230"/><rect x="321" y="606" width="1" height="3" fill="#081230"/><rect x="385" y="606" width="1" height="3" fill="#081230"/><rect x="449" y="606" width="1" height="3" fill="#081230"/><rect x="513" y="606" width="1" height="3" fill="#081230"/><rect x="577" y="606" width="1" height="3" fill="#081230"/><rect x="641" y="606" width="1" height="3" fill="#081230"/><rect x="705" y="606" width="1" height="3" fill="#081230"/><rect x="769" y="606" width="1" height="3" fill="#081230"/><rect x="833" y="606" width="1" height="3" fill="#081230"/><rect x="897" y="606" width="1" height="3" fill="#081230"/></g><path d="M903.5 2.5H910.5L907 6.5Z" fill="#5a74a2"/><g fill="#c08060" fill-opacity="0.35"><rect x="880.6" y="69.8" width="2" height="1.4"/><rect x="886.2" y="73.8" width="2" height="1.4"/><rect x="893.5" y="69.8" width="2" height="1.4"/><rect x="879.8" y="78.3" width="2" height="1.4"/><rect x="871.0" y="82.3" width="2" height="1.4"/><rect x="864.0" y="86.3" width="2" height="1.4"/><rect x="879.0" y="88.3" width="2" height="1.4"/><rect x="888.6" y="90.3" width="2" height="1.4"/><rect x="893.5" y="85.8" width="2" height="1.4"/><rect x="893.5" y="94.3" width="2" height="1.4"/><rect x="877.4" y="93.9" width="2" height="1.4"/><rect x="889.4" y="93.9" width="2" height="1.4"/></g><rect x="1318" y="41" width="36" height="11" fill="#000"/><path d="M4 8H11L7.5 12Z" fill="#b4c4ec"/><text x="17" y="13" font-family="Liberation Sans, Arial, sans-serif" font-size="10" text-rendering="geometricPrecision" fill="#0c1634" stroke="#0c1634" stroke-width="0.2" textLength="61.5" lengthAdjust="spacingAndGlyphs">#GOOG,Daily</text><text x="84" y="13" font-family="Liberation Sans, Arial, sans-serif" font-size="10" text-rendering="geometricPrecision" fill="#0c1634" stroke="#0c1634" stroke-width="0.2" textLength="28.5" lengthAdjust="spacingAndGlyphs">902.36</text><text x="115" y="13" font-family="Liberation Sans, Arial, sans-serif" font-size="10" text-rendering="geometricPrecision" fill="#0c1634" stroke="#0c1634" stroke-width="0.2" textLength="28.5" lengthAdjust="spacingAndGlyphs">908.84</text><text x="146" y="13" font-family="Liberation Sans, Arial, sans-serif" font-size="10" text-rendering="geometricPrecision" fill="#0c1634" stroke="#0c1634" stroke-width="0.2" textLength="28.5" lengthAdjust="spacingAndGlyphs">891.92</text><text x="177" y="13" font-family="Liberation Sans, Arial, sans-serif" font-size="10" text-rendering="geometricPrecision" fill="#0c1634" stroke="#0c1634" stroke-width="0.2" textLength="28.5" lengthAdjust="spacingAndGlyphs">894.37</text><text x="6" y="317" font-family="Liberation Sans, Arial, sans-serif" font-size="10" text-rendering="geometricPrecision" fill="#0c1634" stroke="#0c1634" stroke-width="0.2" textLength="59.5" lengthAdjust="spacingAndGlyphs">MACD_OsMA</text><text x="69.5" y="317" font-family="Liberation Sans, Arial, sans-serif" font-size="10" text-rendering="geometricPrecision" fill="#0c1634" stroke="#0c1634" stroke-width="0.2" textLength="23" lengthAdjust="spacingAndGlyphs">[TF0]</text><text x="95" y="317" font-family="Liberation Sans, Arial, sans-serif" font-size="10" text-rendering="geometricPrecision" fill="#0c1634" stroke="#0c1634" stroke-width="0.2" textLength="37" lengthAdjust="spacingAndGlyphs">(12,26,9)</text><text x="138.7" y="317" font-family="Liberation Sans, Arial, sans-serif" font-size="10" text-rendering="geometricPrecision" fill="#0c1634" stroke="#0c1634" stroke-width="0.2" textLength="32.8" lengthAdjust="spacingAndGlyphs">26.1158</text><text x="174.1" y="317" font-family="Liberation Sans, Arial, sans-serif" font-size="10" text-rendering="geometricPrecision" fill="#0c1634" stroke="#0c1634" stroke-width="0.2" textLength="32.3" lengthAdjust="spacingAndGlyphs">24.5697</text><text x="6" y="469" font-family="Liberation Sans, Arial, sans-serif" font-size="10" text-rendering="geometricPrecision" fill="#0c1634" stroke="#0c1634" stroke-width="0.2" textLength="59.5" lengthAdjust="spacingAndGlyphs">MACD_OsMA</text><text x="69.5" y="469" font-family="Liberation Sans, Arial, sans-serif" font-size="10" text-rendering="geometricPrecision" fill="#0c1634" stroke="#0c1634" stroke-width="0.2" textLength="23" lengthAdjust="spacingAndGlyphs">[TF0]</text><text x="95" y="469" font-family="Liberation Sans, Arial, sans-serif" font-size="10" text-rendering="geometricPrecision" fill="#0c1634" stroke="#0c1634" stroke-width="0.2" textLength="37" lengthAdjust="spacingAndGlyphs">(12,26,9)</text><text x="138.7" y="469" font-family="Liberation Sans, Arial, sans-serif" font-size="10" text-rendering="geometricPrecision" fill="#0c1634" stroke="#0c1634" stroke-width="0.2" textLength="32.8" lengthAdjust="spacingAndGlyphs">26.1158</text><text x="174.1" y="469" font-family="Liberation Sans, Arial, sans-serif" font-size="10" text-rendering="geometricPrecision" fill="#0c1634" stroke="#0c1634" stroke-width="0.2" textLength="32.3" lengthAdjust="spacingAndGlyphs">24.5697</text><text x="1322" y="38" font-family="Liberation Sans, Arial, sans-serif" font-size="10" text-rendering="geometricPrecision" fill="#0c1634" stroke="#0c1634" stroke-width="0.2" textLength="28.5" lengthAdjust="spacingAndGlyphs">904.80</text><text x="1322" y="71" font-family="Liberation Sans, Arial, sans-serif" font-size="10" text-rendering="geometricPrecision" fill="#0c1634" stroke="#0c1634" stroke-width="0.2" textLength="28.5" lengthAdjust="spacingAndGlyphs">876.80</text><text x="1322" y="104" font-family="Liberation Sans, Arial, sans-serif" font-size="10" text-rendering="geometricPrecision" fill="#0c1634" stroke="#0c1634" stroke-width="0.2" textLength="28.5" lengthAdjust="spacingAndGlyphs">849.60</text><text x="1322" y="137" font-family="Liberation Sans, Arial, sans-serif" font-size="10" text-rendering="geometricPrecision" fill="#0c1634" stroke="#0c1634" stroke-width="0.2" textLength="28.5" lengthAdjust="spacingAndGlyphs">821.60</text><text x="1322" y="170" font-family="Liberation Sans, Arial, sans-serif" font-size="10" text-rendering="geometricPrecision" fill="#0c1634" stroke="#0c1634" stroke-width="0.2" textLength="28.5" lengthAdjust="spacingAndGlyphs">794.40</text><text x="1322" y="203" font-family="Liberation Sans, Arial, sans-serif" font-size="10" text-rendering="geometricPrecision" fill="#0c1634" stroke="#0c1634" stroke-width="0.2" textLength="28.5" lengthAdjust="spacingAndGlyphs">766.40</text><text x="1322" y="236" font-family="Liberation Sans, Arial, sans-serif" font-size="10" text-rendering="geometricPrecision" fill="#0c1634" stroke="#0c1634" stroke-width="0.2" textLength="28.5" lengthAdjust="spacingAndGlyphs">739.20</text><text x="1322" y="269" font-family="Liberation Sans, Arial, sans-serif" font-size="10" text-rendering="geometricPrecision" fill="#0c1634" stroke="#0c1634" stroke-width="0.2" textLength="28.5" lengthAdjust="spacingAndGlyphs">711.20</text><text x="1322" y="302" font-family="Liberation Sans, Arial, sans-serif" font-size="10" text-rendering="geometricPrecision" fill="#0c1634" stroke="#0c1634" stroke-width="0.2" textLength="28.5" lengthAdjust="spacingAndGlyphs">684.00</text><text x="1322.5" y="50.5" font-family="Liberation Sans, Arial, sans-serif" font-size="10" text-rendering="geometricPrecision" fill="#d0d0d0" textLength="27.5" lengthAdjust="spacingAndGlyphs">894.37</text><text x="1320.4" y="315" font-family="Liberation Sans, Arial, sans-serif" font-size="10" text-rendering="geometricPrecision" fill="#0c1634" stroke="#0c1634" stroke-width="0.2" textLength="32.8" lengthAdjust="spacingAndGlyphs">29.2759</text><text x="1320.1" y="424" font-family="Liberation Sans, Arial, sans-serif" font-size="10" text-rendering="geometricPrecision" fill="#0c1634" stroke="#0c1634" stroke-width="0.2" textLength="17.8" lengthAdjust="spacingAndGlyphs">0.00</text><text x="1320.1" y="451" font-family="Liberation Sans, Arial, sans-serif" font-size="10" text-rendering="geometricPrecision" fill="#0c1634" stroke="#0c1634" stroke-width="0.2" textLength="30.5" lengthAdjust="spacingAndGlyphs">-8.3733</text><text x="1320.1" y="467" font-family="Liberation Sans, Arial, sans-serif" font-size="10" text-rendering="geometricPrecision" fill="#0c1634" stroke="#0c1634" stroke-width="0.2" textLength="32.8" lengthAdjust="spacingAndGlyphs">29.6653</text><text x="1320.1" y="555" font-family="Liberation Sans, Arial, sans-serif" font-size="10" text-rendering="geometricPrecision" fill="#0c1634" stroke="#0c1634" stroke-width="0.2" textLength="17.8" lengthAdjust="spacingAndGlyphs">0.00</text><text x="1320" y="602" font-family="Liberation Sans, Arial, sans-serif" font-size="10" text-rendering="geometricPrecision" fill="#0c1634" stroke="#0c1634" stroke-width="0.2" textLength="36" lengthAdjust="spacingAndGlyphs">-16.5521</text><text x="0.6" y="618" font-family="Liberation Sans, Arial, sans-serif" font-size="10" text-rendering="geometricPrecision" fill="#0c1634" stroke="#0c1634" stroke-width="0.2" textLength="51.5" lengthAdjust="spacingAndGlyphs">11 Dec 2012</text><text x="64.6" y="618" font-family="Liberation Sans, Arial, sans-serif" font-size="10" text-rendering="geometricPrecision" fill="#0c1634" stroke="#0c1634" stroke-width="0.2" textLength="51.8" lengthAdjust="spacingAndGlyphs">21 Dec 2012</text><text x="128.6" y="618" font-family="Liberation Sans, Arial, sans-serif" font-size="10" text-rendering="geometricPrecision" fill="#0c1634" stroke="#0c1634" stroke-width="0.2" textLength="45" lengthAdjust="spacingAndGlyphs">4 Jan 2013</text><text x="192.6" y="618" font-family="Liberation Sans, Arial, sans-serif" font-size="10" text-rendering="geometricPrecision" fill="#0c1634" stroke="#0c1634" stroke-width="0.2" textLength="49.3" lengthAdjust="spacingAndGlyphs">16 Jan 2013</text><text x="256.6" y="618" font-family="Liberation Sans, Arial, sans-serif" font-size="10" text-rendering="geometricPrecision" fill="#0c1634" stroke="#0c1634" stroke-width="0.2" textLength="49.3" lengthAdjust="spacingAndGlyphs">29 Jan 2013</text><text x="320.6" y="618" font-family="Liberation Sans, Arial, sans-serif" font-size="10" text-rendering="geometricPrecision" fill="#0c1634" stroke="#0c1634" stroke-width="0.2" textLength="46.4" lengthAdjust="spacingAndGlyphs">8 Feb 2013</text><text x="384.6" y="618" font-family="Liberation Sans, Arial, sans-serif" font-size="10" text-rendering="geometricPrecision" fill="#0c1634" stroke="#0c1634" stroke-width="0.2" textLength="51" lengthAdjust="spacingAndGlyphs">20 Feb 2013</text><text x="448.6" y="618" font-family="Liberation Sans, Arial, sans-serif" font-size="10" text-rendering="geometricPrecision" fill="#0c1634" stroke="#0c1634" stroke-width="0.2" textLength="46.8" lengthAdjust="spacingAndGlyphs">4 Mar 2013</text><text x="512.6" y="618" font-family="Liberation Sans, Arial, sans-serif" font-size="10" text-rendering="geometricPrecision" fill="#0c1634" stroke="#0c1634" stroke-width="0.2" textLength="51" lengthAdjust="spacingAndGlyphs">14 Mar 2013</text><text x="576.6" y="618" font-family="Liberation Sans, Arial, sans-serif" font-size="10" text-rendering="geometricPrecision" fill="#0c1634" stroke="#0c1634" stroke-width="0.2" textLength="51.4" lengthAdjust="spacingAndGlyphs">26 Mar 2013</text><text x="640.6" y="618" font-family="Liberation Sans, Arial, sans-serif" font-size="10" text-rendering="geometricPrecision" fill="#0c1634" stroke="#0c1634" stroke-width="0.2" textLength="45.3" lengthAdjust="spacingAndGlyphs">8 Apr 2013</text><text x="704.6" y="618" font-family="Liberation Sans, Arial, sans-serif" font-size="10" text-rendering="geometricPrecision" fill="#0c1634" stroke="#0c1634" stroke-width="0.2" textLength="50.2" lengthAdjust="spacingAndGlyphs">18 Apr 2013</text><text x="768.6" y="618" font-family="Liberation Sans, Arial, sans-serif" font-size="10" text-rendering="geometricPrecision" fill="#0c1634" stroke="#0c1634" stroke-width="0.2" textLength="50.6" lengthAdjust="spacingAndGlyphs">30 Apr 2013</text><text x="832.6" y="618" font-family="Liberation Sans, Arial, sans-serif" font-size="10" text-rendering="geometricPrecision" fill="#0c1634" stroke="#0c1634" stroke-width="0.2" textLength="55.2" lengthAdjust="spacingAndGlyphs">10 May 2013</text><text x="896.6" y="618" font-family="Liberation Sans, Arial, sans-serif" font-size="10" text-rendering="geometricPrecision" fill="#0c1634" stroke="#0c1634" stroke-width="0.2" textLength="56" lengthAdjust="spacingAndGlyphs">22 May 2013</text></svg>
</body></html>
